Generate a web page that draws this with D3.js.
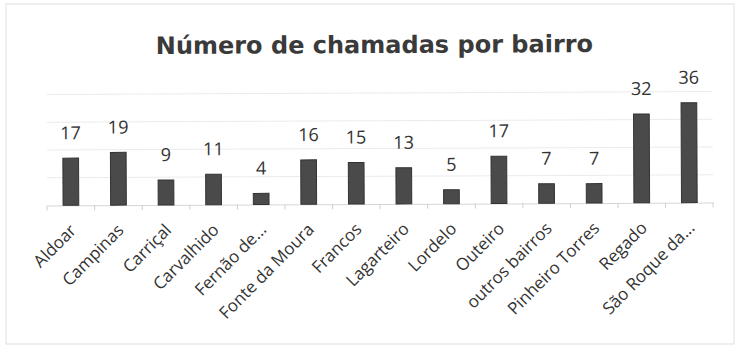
<!DOCTYPE html>
<html><head><meta charset="utf-8">
<script src="https://cdn.jsdelivr.net/npm/d3@7"></script>
<style>body{margin:0;background:#fff}</style>
</head><body>
<svg id="chart" width="741" height="349"></svg>
<script>
const categories = ["Aldoar","Campinas","Carriçal","Carvalhido","Fernão de...","Fonte da Moura","Francos","Lagarteiro","Lordelo","Outeiro","outros bairros","Pinheiro Torres","Regado","São Roque da..."];
const values = [17,19,9,11,4,16,15,13,5,17,7,7,32,36];
const yTicks = [0,10,20,30,40];
const title = "Número de chamadas por bairro";

const root = d3.select("#chart");
const W = 741, H = 349;
root.append("rect").attr("x",6).attr("y",4).attr("width",728).attr("height",340)
  .attr("fill","#fff").attr("stroke","#e4e4e4").attr("stroke-width",1.2);
// slight scan tilt
const svg = root.append("g").attr("transform","rotate(-0.25,375,175)");

const m = {left:47, right:28, top:93, bottom:145};
const x = d3.scaleBand().domain(categories).range([m.left, W - m.right]).paddingInner(0.67).paddingOuter(0.335);
const y = d3.scaleLinear().domain([0,40]).range([H - m.bottom, m.top]);

svg.append("text").attr("x",375).attr("y",53).attr("text-anchor","middle")
  .attr("font-family","DejaVu Sans, sans-serif").attr("font-weight","bold")
  .attr("font-size",24).attr("fill","#3a3a3a").text(title);

// gridlines
svg.append("g").selectAll("line").data(yTicks.filter(d=>d>0)).join("line")
  .attr("x1",m.left).attr("x2",W-m.right)
  .attr("y1",d=>y(d)).attr("y2",d=>y(d))
  .attr("stroke","#ebebeb").attr("stroke-width",1);

// axis
const xAxis = d3.axisBottom(x).tickSize(0).tickFormat("");
const ax = svg.append("g").attr("transform",`translate(0,${y(0)})`).call(xAxis);
ax.select(".domain").attr("stroke","#d6d6d6");
const step = x.step();
const bounds = d3.range(categories.length+1).map(i => m.left + i*step);
svg.append("g").selectAll("line").data(bounds).join("line")
  .attr("x1",d=>d).attr("x2",d=>d).attr("y1",y(0)).attr("y2",y(0)+5)
  .attr("stroke","#cfcfcf");

// bars
svg.append("g").selectAll("rect").data(values).join("rect")
  .attr("x",(d,i)=>x(categories[i])).attr("width",x.bandwidth())
  .attr("y",d=>y(d)).attr("height",d=>y(0)-y(d))
  .attr("fill","#4a4a4a").attr("stroke","#333").attr("stroke-width",1);

// value labels
svg.append("g").selectAll("text").data(values).join("text")
  .attr("x",(d,i)=>x(categories[i])+x.bandwidth()/2)
  .attr("y",d=>y(d)-19).attr("text-anchor","middle")
  .attr("font-family","Open Sans, sans-serif").attr("font-size",18).attr("fill","#333")
  .text(d=>d);

// category labels
svg.append("g").selectAll("text").data(categories).join("text")
  .attr("transform",d=>`translate(${x(d)+x.bandwidth()/2+2},${y(0)+22}) rotate(-45)`)
  .attr("text-anchor","end").attr("dy","0.35em")
  .attr("font-family","Open Sans, sans-serif").attr("font-size",17).attr("fill","#333")
  .text(d=>d);
</script>
</body></html>
